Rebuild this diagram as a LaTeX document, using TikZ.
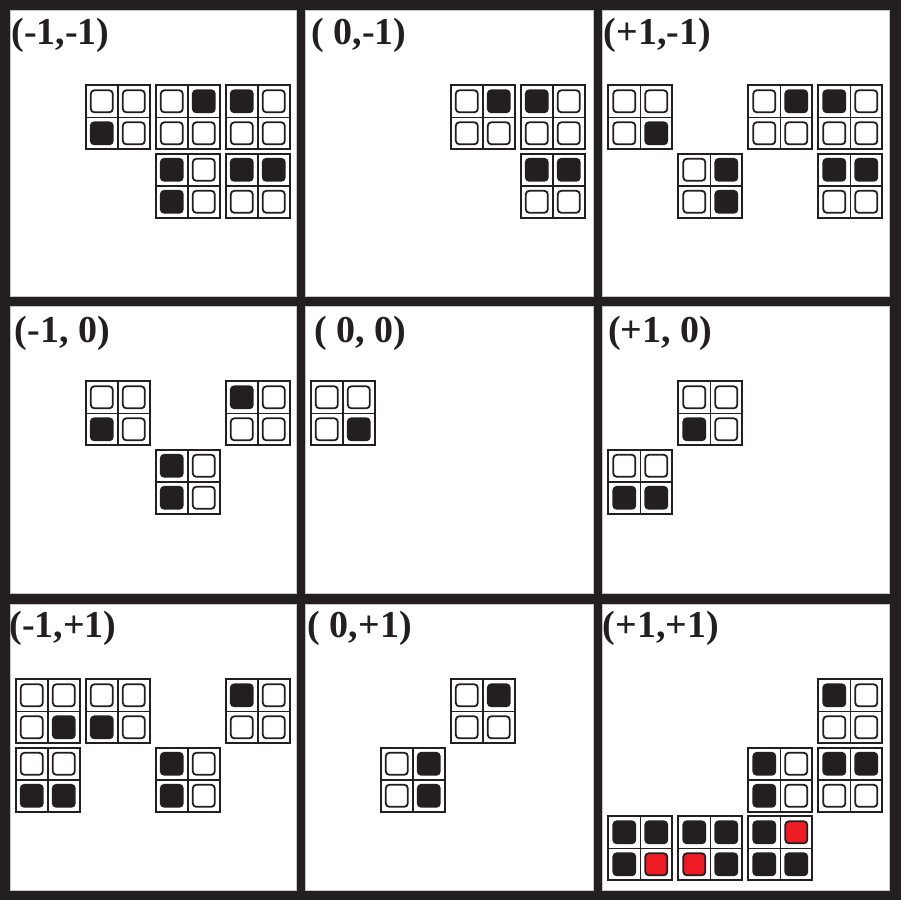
\documentclass[tikz,border=0pt]{standalone}
\usepackage{fontspec}
\setmainfont{Liberation Serif}
\definecolor{panelink}{RGB}{35,31,32}
\definecolor{flagred}{RGB}{237,28,36}
\colorlet{off}{white}
\colorlet{on}{panelink}
\colorlet{hit}{flagred}
\tikzset{
  panel/.style={fill=white, draw=gray!45, line width=0.6pt},
  tileframe/.style={draw=panelink, fill=white, line width=2pt},
  tilegrid/.style={draw=panelink, line width=1.6pt},
  cellbox/.style={draw=panelink, line width=1.8pt, rounded corners=3.5pt},
  coordlabel/.style={anchor=base west, inner sep=0pt, text=panelink,
    font=\fontsize{38}{41}\selectfont\bfseries}
}
% one 2x2 tile: column, row, then the cells TL TR BL BR
\newcommand{\qtile}[6]{%
  \begin{scope}[shift={(5.8+70*#1,75.3+68.5*#2-68.5)}]
    \draw[tileframe] (0,0) rectangle (64,64);
    \draw[tilegrid] (32,0) -- (32,64) (0,32) -- (64,32);
    \draw[cellbox, fill=#3] (5,5) rectangle (27,27);
    \draw[cellbox, fill=#4] (37,5) rectangle (59,27);
    \draw[cellbox, fill=#5] (5,37) rectangle (27,59);
    \draw[cellbox, fill=#6] (37,37) rectangle (59,59);
  \end{scope}}

\begin{document}
\begin{tikzpicture}[x=1pt, y=-1pt]
  \useasboundingbox (0,0) rectangle (901,900);
  \fill[panelink] (0,0) rectangle (901,900);

  % top row
  \begin{scope}[shift={(10,10)}]
    \path[panel] (0,0) rectangle (286,286.5);
    \node[coordlabel] (lblmm) at (1.2,34.5) {(-1,-1)};
    \qtile{1}{1}{off}{off}{on}{off}
    \qtile{2}{1}{off}{on}{off}{off}
    \qtile{3}{1}{on}{off}{off}{off}
    \qtile{2}{2}{on}{off}{on}{off}
    \qtile{3}{2}{on}{on}{off}{off}
  \end{scope}
  \begin{scope}[shift={(305,10)}]
    \path[panel] (0,0) rectangle (288,286.5);
    \node[coordlabel] (lblzm) at (6.2,34.5) {( 0,-1)};
    \qtile{2}{1}{off}{on}{off}{off}
    \qtile{3}{1}{on}{off}{off}{off}
    \qtile{3}{2}{on}{on}{off}{off}
  \end{scope}
  \begin{scope}[shift={(602.5,10)}]
    \path[panel] (0,0) rectangle (287,286.5);
    \node[coordlabel] (lblpm) at (1,34.5) {(+1,-1)};
    \qtile{0}{1}{off}{off}{off}{on}
    \qtile{2}{1}{off}{on}{off}{off}
    \qtile{3}{1}{on}{off}{off}{off}
    \qtile{1}{2}{off}{on}{off}{on}
    \qtile{3}{2}{on}{on}{off}{off}
  \end{scope}

  % middle row
  \begin{scope}[shift={(10,306)}]
    \path[panel] (0,0) rectangle (286,287);
    \node[coordlabel] (lblmz) at (4.5,36.5) {(-1, 0)};
    \qtile{1}{1}{off}{off}{on}{off}
    \qtile{3}{1}{on}{off}{off}{off}
    \qtile{2}{2}{on}{off}{on}{off}
  \end{scope}
  \begin{scope}[shift={(305,306)}]
    \path[panel] (0,0) rectangle (288,287);
    \node[coordlabel] (lblzz) at (9.5,36.5) {( 0, 0)};
    \qtile{0}{1}{off}{off}{off}{on}
  \end{scope}
  \begin{scope}[shift={(602.5,306)}]
    \path[panel] (0,0) rectangle (287,287);
    \node[coordlabel] (lblpz) at (5.6,36.5) {(+1, 0)};
    \qtile{1}{1}{off}{off}{on}{off}
    \qtile{0}{2}{off}{off}{on}{on}
  \end{scope}

  % bottom row
  \begin{scope}[shift={(10,604)}]
    \path[panel] (0,0) rectangle (286,286);
    \node[coordlabel] (lblmp) at (-0.8,33.5) {(-1,+1)};
    \qtile{0}{1}{off}{off}{off}{on}
    \qtile{1}{1}{off}{off}{on}{off}
    \qtile{3}{1}{on}{off}{off}{off}
    \qtile{0}{2}{off}{off}{on}{on}
    \qtile{2}{2}{on}{off}{on}{off}
  \end{scope}
  \begin{scope}[shift={(305,604)}]
    \path[panel] (0,0) rectangle (288,286);
    \node[coordlabel] (lblzp) at (2.5,33.5) {( 0,+1)};
    \qtile{2}{1}{off}{on}{off}{off}
    \qtile{1}{2}{off}{on}{off}{on}
  \end{scope}
  \begin{scope}[shift={(602.5,604)}]
    \path[panel] (0,0) rectangle (287,286);
    \node[coordlabel] (lblpp) at (0,33.5) {(+1,+1)};
    \qtile{3}{1}{on}{off}{off}{off}
    \qtile{2}{2}{on}{off}{on}{off}
    \qtile{3}{2}{on}{on}{off}{off}
    \qtile{0}{3}{on}{on}{on}{hit}
    \qtile{1}{3}{on}{on}{hit}{on}
    \qtile{2}{3}{on}{hit}{on}{on}
  \end{scope}
\end{tikzpicture}
\end{document}
